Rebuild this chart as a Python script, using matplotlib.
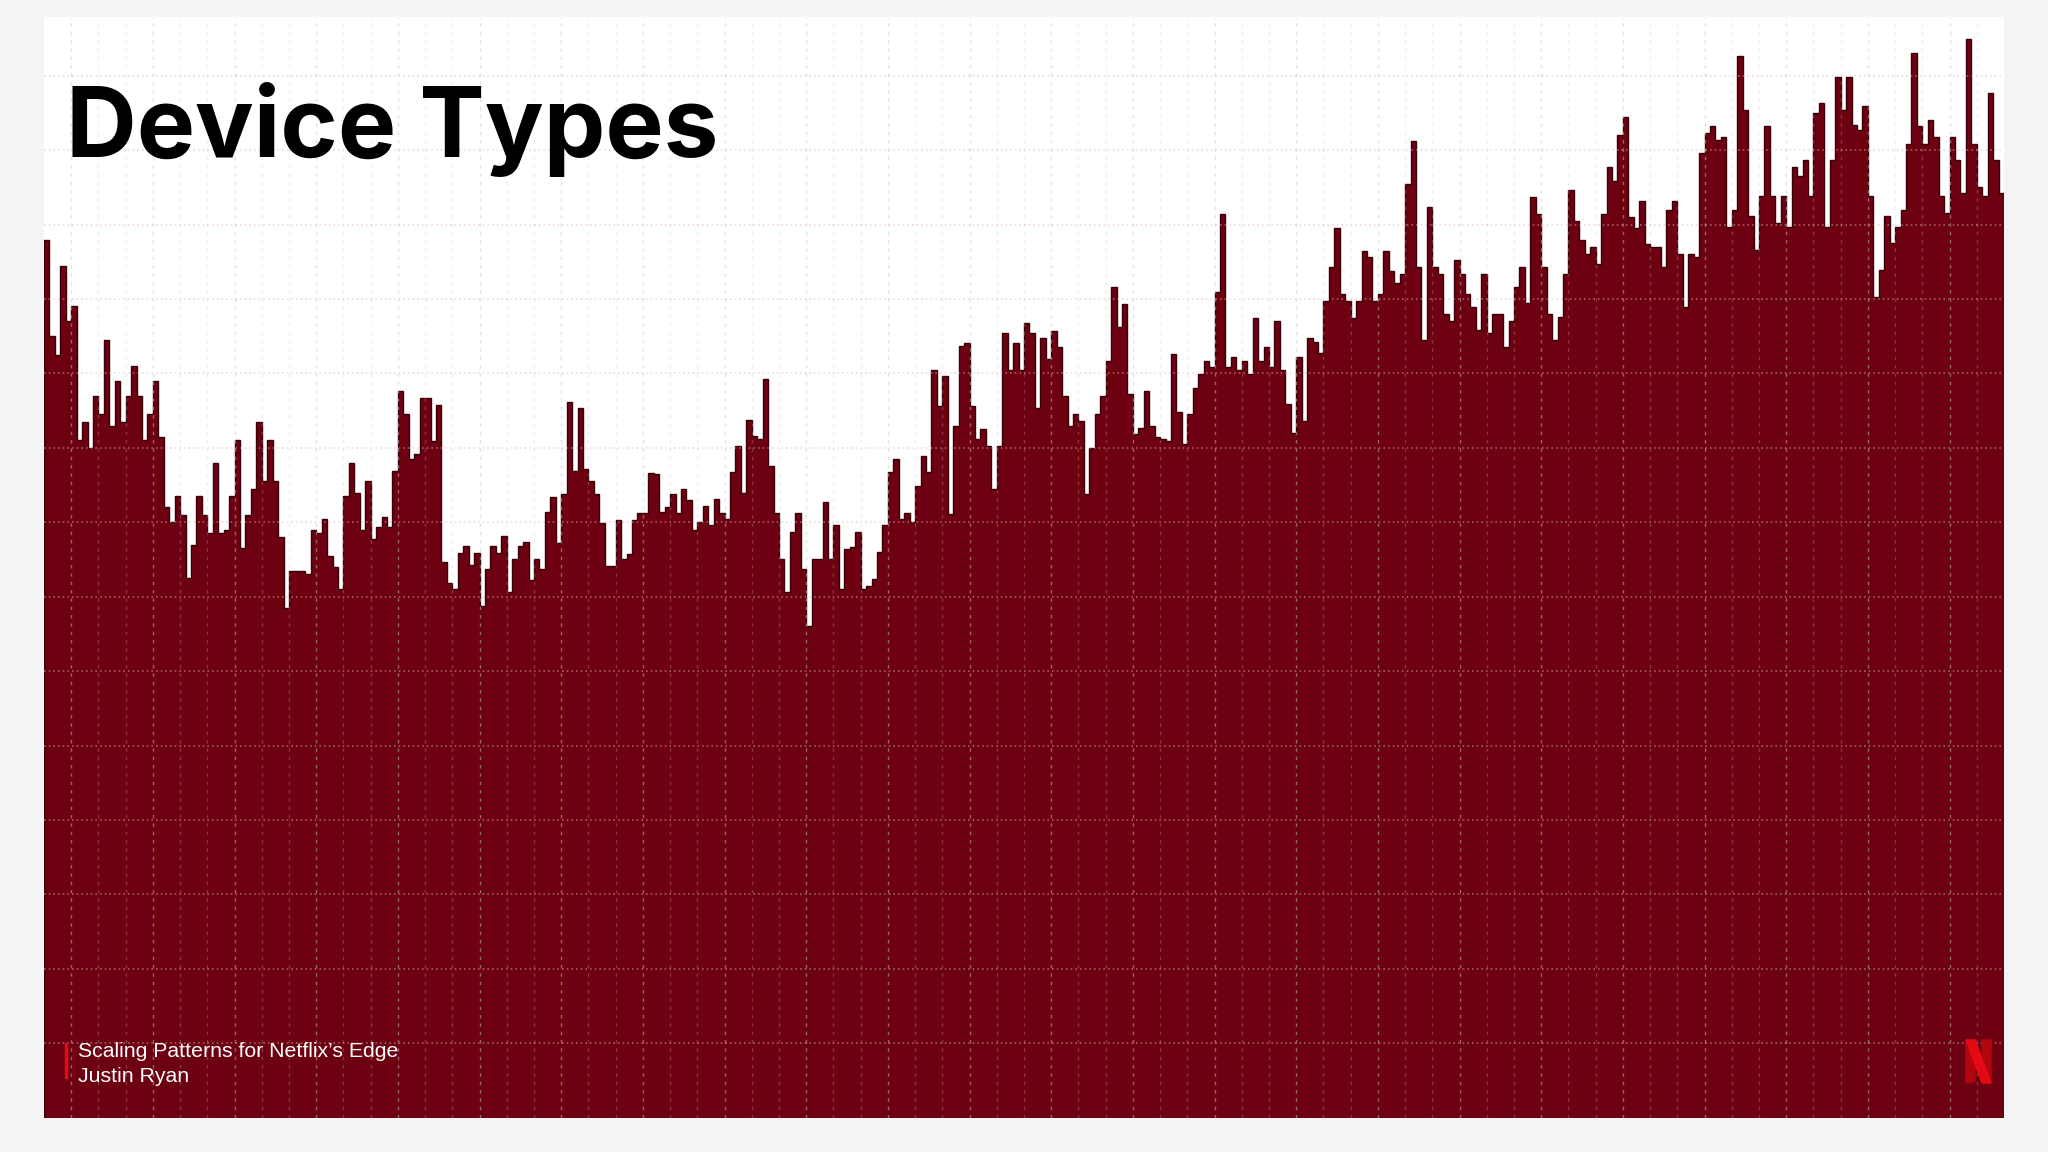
import numpy as np
import matplotlib
matplotlib.use("Agg")
import matplotlib.pyplot as plt
from matplotlib.patches import Polygon, Rectangle

# ---------------- data (relative traffic level per time bucket) ----------------
values_a = [11.8, 10.5, 10.25, 11.45, 10.7, 10.9, 9.1, 9.35, 9.0, 9.7,
            9.45, 10.45, 9.3, 9.9, 9.35, 9.7, 10.1, 9.7, 9.1, 9.45,
            9.9, 9.15, 8.2, 8.0, 8.35, 8.1, 7.25, 7.7, 8.35, 8.1,
            7.85, 8.8, 7.85, 7.9, 8.35, 9.1, 7.65, 8.1, 8.45, 9.35,
            8.55, 9.1, 8.55, 7.8, 6.85, 7.35, 7.35, 7.35, 7.3, 7.9,
            7.85, 8.05, 7.55, 7.4, 7.1, 8.35, 8.8, 8.4, 7.9, 8.55]
values_b = [7.77, 7.94, 8.07, 7.94, 8.69, 9.76, 9.45, 8.85, 8.92, 9.67,
            9.67, 9.09, 9.58, 7.46, 7.19, 7.1, 7.59, 7.68, 7.43, 7.59,
            6.88, 7.37, 7.68, 7.59, 7.81, 7.06, 7.5, 7.68, 7.74, 7.23,
            7.5, 7.37, 8.14, 8.34, 7.72, 8.38, 9.62, 8.69, 9.54, 8.72,
            8.56, 8.38, 7.99, 7.41, 7.41, 8.03, 7.5, 7.57, 8.03, 8.12,
            8.12, 8.66, 8.65, 8.14, 8.21, 8.38, 8.12, 8.45, 8.3, 7.9]
values_c = [8.0, 8.22, 7.96, 8.31, 8.13, 8.04, 8.67, 9.03, 8.4, 9.38,
            9.16, 9.12, 9.92, 8.76, 8.13, 7.51, 7.06, 7.87, 8.13, 7.37,
            6.6, 7.51, 7.51, 8.27, 7.51, 7.96, 7.11, 7.64, 7.67, 7.87,
            7.11, 7.15, 7.24, 7.6, 7.96, 8.67, 8.85, 8.04, 8.13, 8.0,
            8.49, 8.89, 8.67, 10.05, 9.56, 9.96, 8.11, 9.29, 10.37, 10.41,
            9.56, 9.12, 9.25, 9.03, 8.45, 9.03, 10.54, 10.05, 10.41, 10.05]
values_d = [10.68, 10.55, 9.54, 10.48, 10.19, 10.57, 10.35, 9.7, 9.3, 9.45,
            9.36, 8.38, 9.0, 9.45, 9.7, 10.17, 11.16, 10.62, 10.93, 9.72,
            9.18, 9.27, 9.77, 9.3, 9.14, 9.12, 9.09, 10.26, 9.48, 9.05,
            9.45, 9.81, 9.99, 10.17, 10.08, 11.09, 12.14, 10.08, 10.22, 10.04,
            10.17, 9.99, 10.75, 10.17, 10.35, 10.08, 10.71, 10.04, 9.59, 9.2,
            10.22, 9.36, 10.48, 10.42, 10.28, 10.98, 11.43, 11.96, 11.07, 10.98,
            10.75, 10.98]
values_e = [11.65, 11.56, 10.98, 11.07, 11.65, 11.38, 11.21, 11.34, 12.54, 13.12,
            11.43, 10.45, 12.24, 11.43, 11.34, 10.8, 10.71, 11.52, 11.34, 11.07,
            10.89, 10.58, 11.34, 10.54, 10.8, 10.8, 10.36, 10.71, 11.16, 11.43,
            10.94, 12.37, 12.14, 11.43, 10.8, 10.45, 10.76, 11.34, 12.46, 12.05,
            11.79, 11.61, 11.7, 11.47, 12.14, 12.77, 12.59, 13.21, 13.44, 12.1,
            11.96, 12.32, 11.74, 11.7, 11.7, 11.43, 12.19, 12.32, 11.61, 10.89]
values_f = [11.61, 11.57, 12.96, 13.23, 13.32, 13.14, 13.18, 11.97, 12.2, 14.26,
            13.54, 12.11, 11.66, 12.38, 13.32, 12.38, 12.02, 12.38, 11.97, 12.78,
            12.65, 12.87, 12.38, 13.5, 13.63, 11.97, 12.87, 13.99, 13.54, 13.99,
            13.34, 13.27, 13.59, 12.38, 11.03, 11.39, 12.11, 11.75, 11.97, 12.2,
            13.09, 14.3, 13.32, 13.09, 13.41, 13.18, 12.38, 12.15, 13.18, 12.87,
            12.42, 14.5, 13.09, 12.51, 12.38, 13.77, 12.87, 12.42]

values = values_a + values_b + values_c + values_d + values_e + values_f

title = "Device Types"
footer_line1 = "Scaling Patterns for Netflix\u2019s Edge"
footer_line2 = "Justin Ryan"

# ---------------- figure ----------------
W, H = 2048, 1152
fig = plt.figure(figsize=(W / 100, H / 100), dpi=100, facecolor="#f4f4f4")


def fx(x):
    return x / W


def fy(y):
    return 1 - y / H


ax = fig.add_axes([fx(44), fy(1117.6), (2004 - 44) / W, (1117.6 - 17) / H])
ax.set_facecolor("white")

n = len(values)
edges = np.arange(n + 1)
ax.stairs(values, edges, fill=True, color="#6d0011", zorder=2)
ax.stairs(values, edges, color="#3a0007", linewidth=1.0, zorder=3)

ax.set_xlim(0, n)
ax.set_ylim(0, 14.79)

# grid
for k in range(1, n // 5):
    major = (k % 3 == 1)
    ax.axvline(k * 5, color="#c8c8c8", lw=1.0, ls=(0, (2.5, 3.5)),
               alpha=0.5 if major else 0.28, zorder=4)
for j in range(1, 15):
    ax.axhline(j, color="#e0b4bb", lw=1.2, ls=(0, (1, 1.8)), alpha=0.5, zorder=4)

for s in ax.spines.values():
    s.set_visible(False)
ax.set_xticks([])
ax.set_yticks([])

# title
fig.text(fx(66), fy(157), title, fontsize=70.5, fontweight="bold",
         family=["Inter", "DejaVu Sans"], color="black", va="baseline", ha="left",
         zorder=10)

# footer
fig.patches.append(Rectangle((fx(65), fy(1078)), 2 / W, 35 / H,
                             transform=fig.transFigure, color="#e50914", zorder=10))
fig.text(fx(78), fy(1057), footer_line1, fontsize=15.3,
         family=["Liberation Sans", "DejaVu Sans"], color="white", va="baseline",
         ha="left", zorder=10)
fig.text(fx(78), fy(1082), footer_line2, fontsize=15.3,
         family=["Liberation Sans", "DejaVu Sans"], color="white", va="baseline",
         ha="left", zorder=10)

# Netflix "N" mark
x0, x1, yt, yb = 1966, 1991, 1040, 1083
bw = 9
left_bar = [(x0, yt), (x0 + bw, yt), (x0 + bw, yb - 2), (x0, yb)]
right_bar = [(x1 - bw, yt), (x1, yt), (x1, yb), (x1 - bw, yb - 2)]
diag = [(x0, yt), (x0 + bw, yt), (x1, yb), (x1 - bw, yb)]
for pts, col in [(left_bar, "#b1060f"), (right_bar, "#b1060f"), (diag, "#e50914")]:
    fig.patches.append(Polygon([(fx(a), fy(b)) for a, b in pts], closed=True,
                               transform=fig.transFigure, color=col, zorder=11))

fig.savefig("out.png", dpi=100, facecolor=fig.get_facecolor())
